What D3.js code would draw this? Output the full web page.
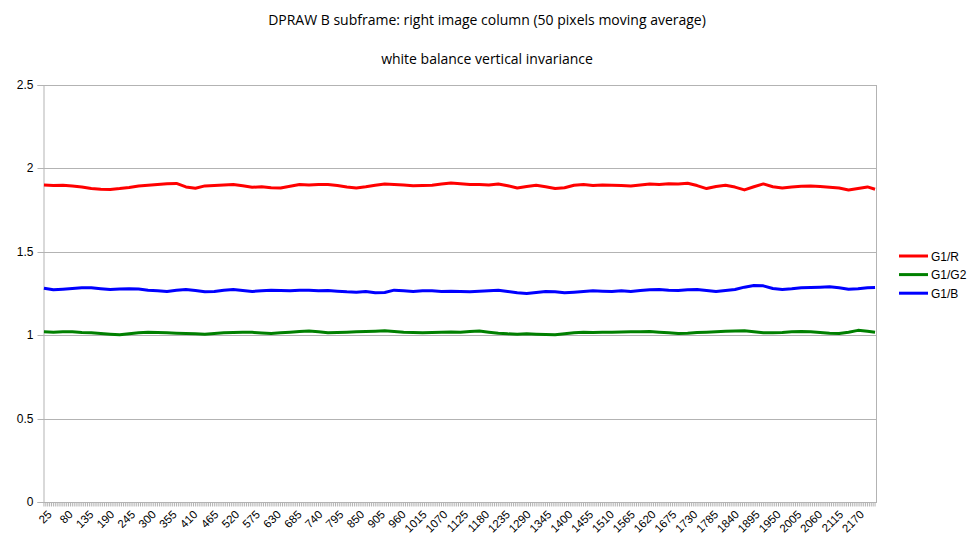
<!DOCTYPE html>
<html>
<head>
<meta charset="utf-8">
<script src="https://cdn.jsdelivr.net/npm/d3@7"></script>
<style>
  html, body { margin: 0; padding: 0; background: #fff; }
  svg { display: block; }
</style>
</head>
<body>
<svg id="chart" width="977" height="550"></svg>
<script>
// ---- data ----
const titleLines = ["DPRAW B subframe: right image column (50 pixels moving average)",
                    "white balance vertical invariance"];
// x categories: image rows (every 5 pixels)
const categories = d3.range(25, 2225, 5);
// rows at which the moving-average values were read
const sampleRows = d3.range(25, 2201, 25).concat([2220]);
const yTicks = [0, 0.5, 1, 1.5, 2, 2.5];
const seriesNames = ["G1/R", "G1/G2", "G1/B"];
const seriesColors = ["#ff0000", "#008000", "#0000ff"];

const g1r = [1.900,1.898,1.899,1.894,1.889,1.880,1.875,1.874,1.879,1.886,
             1.895,1.899,1.904,1.908,1.910,1.889,1.881,1.895,1.897,1.900,
             1.903,1.896,1.887,1.890,1.884,1.883,1.893,1.903,1.901,1.904,
             1.903,1.898,1.889,1.883,1.890,1.899,1.906,1.904,1.900,1.896,
             1.898,1.899,1.906,1.913,1.908,1.904,1.903,1.900,1.907,1.896,
             1.883,1.892,1.899,1.890,1.880,1.884,1.899,1.903,1.898,1.901,
             1.899,1.897,1.895,1.901,1.907,1.904,1.908,1.906,1.911,1.897,
             1.879,1.892,1.899,1.888,1.871,1.890,1.907,1.890,1.883,1.889,
             1.893,1.895,1.891,1.887,1.882,1.871,1.880,1.889,1.875];
const g1g2 = [1.020,1.018,1.021,1.020,1.016,1.014,1.010,1.006,1.002,1.008,
              1.014,1.018,1.016,1.014,1.012,1.010,1.008,1.006,1.010,1.014,
              1.016,1.018,1.017,1.013,1.010,1.014,1.018,1.022,1.025,1.020,
              1.014,1.016,1.018,1.020,1.022,1.024,1.026,1.022,1.018,1.016,
              1.014,1.016,1.018,1.019,1.018,1.022,1.025,1.018,1.012,1.008,
              1.006,1.008,1.006,1.004,1.002,1.008,1.014,1.018,1.016,1.018,
              1.017,1.019,1.020,1.021,1.022,1.018,1.014,1.010,1.012,1.016,
              1.018,1.020,1.023,1.025,1.026,1.020,1.015,1.014,1.016,1.020,
              1.022,1.020,1.016,1.012,1.010,1.018,1.029,1.024,1.018];
const g1b = [1.282,1.272,1.276,1.280,1.284,1.285,1.279,1.274,1.277,1.279,
             1.277,1.270,1.266,1.262,1.269,1.274,1.268,1.260,1.262,1.270,
             1.274,1.268,1.262,1.266,1.270,1.268,1.266,1.270,1.270,1.266,
             1.268,1.264,1.260,1.258,1.262,1.255,1.256,1.270,1.266,1.262,
             1.266,1.266,1.262,1.264,1.262,1.260,1.263,1.266,1.270,1.262,
             1.254,1.250,1.256,1.262,1.260,1.254,1.258,1.262,1.266,1.264,
             1.262,1.266,1.262,1.268,1.272,1.274,1.270,1.268,1.272,1.274,
             1.268,1.262,1.268,1.274,1.288,1.298,1.296,1.280,1.274,1.278,
             1.284,1.286,1.288,1.290,1.284,1.276,1.278,1.284,1.286];
const seriesValues = [g1r, g1g2, g1b];

// ---- layout ----
const svg = d3.select("#chart");
const plot = {left: 43, right: 876, top: 85, bottom: 502};
const gridColor = "#b3b3b3";

const x = d3.scaleBand().domain(categories).range([plot.left, plot.right]).padding(0);
const y = d3.scaleLinear().domain([0, 2.5]).range([plot.bottom, plot.top]);
const xc = c => x(c) + x.bandwidth() / 2;

// titles
svg.selectAll("text.title").data(titleLines).enter().append("text")
  .attr("class", "title")
  .attr("x", 487).attr("y", (d, i) => 25 + i * 39)
  .attr("text-anchor", "middle")
  .attr("font-family", "Open Sans, DejaVu Sans, sans-serif")
  .attr("font-size", 14)
  .attr("fill", "#000")
  .text(d => d);

// gridlines
svg.append("g").selectAll("line").data(yTicks.filter(v => v > 0)).enter().append("line")
  .attr("x1", plot.left).attr("x2", plot.right)
  .attr("y1", d => Math.round(y(d)) + 0.5).attr("y2", d => Math.round(y(d)) + 0.5)
  .attr("stroke", gridColor).attr("stroke-width", 1);

// right border
svg.append("line")
  .attr("x1", plot.right + 0.5).attr("x2", plot.right + 0.5)
  .attr("y1", plot.top).attr("y2", plot.bottom)
  .attr("stroke", gridColor);

// y axis
const yAxis = d3.axisLeft(y).tickValues(yTicks).tickSize(6).tickPadding(4)
  .tickFormat(d => String(d));
const gy = svg.append("g").attr("transform", `translate(${plot.left + 0.5},0)`).call(yAxis);
gy.select(".domain").attr("stroke", gridColor);
gy.selectAll(".tick line").attr("stroke", gridColor);
gy.selectAll(".tick text").attr("font-family", "Liberation Sans, Arial, sans-serif")
  .attr("font-size", 12).attr("fill", "#000");
gy.selectAll(".tick").attr("transform", d => `translate(0,${Math.round(y(d)) + 0.5})`);

// x axis
const labelCats = categories.filter((c, i) => i % 11 === 0);
const xAxis = d3.axisBottom(x).tickValues(categories).tickSize(4).tickPadding(2)
  .tickFormat(d => labelCats.includes(d) ? String(d) : "");
const gx = svg.append("g").attr("transform", `translate(0,${plot.bottom + 0.5})`).call(xAxis);
gx.select(".domain").attr("stroke", gridColor).attr("d", `M${plot.left},0H${plot.right + 1}`);
gx.selectAll(".tick line").attr("stroke", gridColor);
gx.selectAll(".tick text")
  .attr("font-family", "Liberation Sans, Arial, sans-serif")
  .attr("font-size", 11.5).attr("fill", "#000")
  .attr("text-anchor", "end")
  .attr("dy", null).attr("y", null)
  .attr("transform", "translate(3,7) rotate(-45)")
  .attr("dominant-baseline", "hanging");

// series lines
const line = d3.line().x((d, i) => xc(sampleRows[i])).y(d => y(d)).curve(d3.curveLinear);
svg.append("g").selectAll("path").data(seriesValues).enter().append("path")
  .attr("d", d => line(d))
  .attr("fill", "none")
  .attr("stroke", (d, i) => seriesColors[i])
  .attr("stroke-width", 3)
  .attr("stroke-linejoin", "round");

// legend
const lg = svg.append("g");
seriesNames.forEach((name, i) => {
  const ly = 256 + i * 18.6;
  lg.append("line").attr("x1", 899).attr("x2", 928).attr("y1", ly).attr("y2", ly)
    .attr("stroke", seriesColors[i]).attr("stroke-width", 3);
  lg.append("text").attr("x", 931).attr("y", ly + 4.5)
    .attr("font-family", "Liberation Sans, Arial, sans-serif")
    .attr("font-size", 12).attr("fill", "#000").text(name);
});
</script>
</body>
</html>
